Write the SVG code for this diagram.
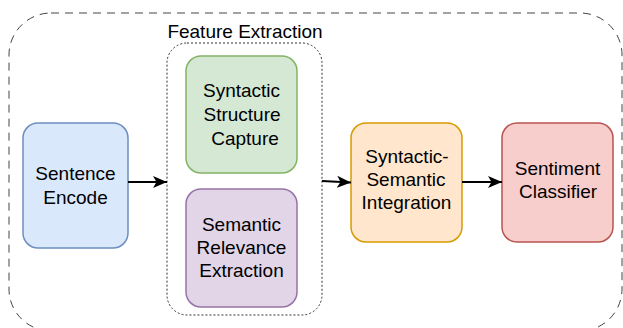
<svg xmlns="http://www.w3.org/2000/svg" width="623" height="328" viewBox="0 0 623 328">
<style>
text{font-family:"Liberation Sans",Arial,sans-serif;font-size:19px;fill:#000;text-anchor:middle}
.c{stroke:#000;stroke-width:1.8;fill:none}
</style>
<defs>
<marker id="ah" markerWidth="15" markerHeight="13" refX="14" refY="6.5" orient="auto" markerUnits="userSpaceOnUse">
<path d="M0,0.5 L14,6.5 L0,12.5 L3.5,6.5 Z" fill="#000"/>
</marker>
</defs>
<rect width="623" height="328" fill="#fff"/>
<g id="outer">
<rect x="9" y="13" width="613" height="318" rx="42" fill="none" stroke="#444" stroke-width="1" stroke-dasharray="8 6"/>
</g>
<g id="feature-extraction">
<rect x="167" y="43" width="155" height="272" rx="20" fill="none" stroke="#333" stroke-width="1" stroke-dasharray="2 2"/>
<text x="245" y="38">Feature Extraction</text>
</g>
<g id="sentence-encode">
<rect x="23" y="123" width="105" height="125" rx="15" fill="#dae8fc" stroke="#6c8ebf" stroke-width="1.5"/>
<text x="75.5" y="180">Sentence</text>
<text x="75.5" y="204">Encode</text>
</g>
<g id="syntactic-structure">
<rect x="186" y="56" width="111" height="117" rx="15" fill="#d5e8d4" stroke="#82b366" stroke-width="1.5"/>
<text x="241.5" y="97">Syntactic</text>
<text x="242" y="121">Structure</text>
<text x="245" y="145">Capture</text>
</g>
<g id="semantic-relevance">
<rect x="186" y="189" width="111" height="118" rx="15" fill="#e1d5e7" stroke="#9673a6" stroke-width="1.5"/>
<text x="241.5" y="231">Semantic</text>
<text x="241.5" y="254">Relevance</text>
<text x="241.5" y="277">Extraction</text>
</g>
<g id="integration">
<rect x="351" y="123" width="111" height="119" rx="15" fill="#ffe6cc" stroke="#d79b00" stroke-width="1.5"/>
<text x="407" y="163">Syntactic-</text>
<text x="406" y="186">Semantic</text>
<text x="406.5" y="209">Integration</text>
</g>
<g id="classifier">
<rect x="502" y="123" width="111" height="119" rx="15" fill="#f8cecc" stroke="#b85450" stroke-width="1.5"/>
<text x="557.5" y="175">Sentiment</text>
<text x="558" y="198">Classifier</text>
</g>
<g id="connectors">
<line class="c" x1="128" y1="182" x2="167" y2="182" marker-end="url(#ah)"/>
<line class="c" x1="322" y1="181" x2="351" y2="182.5" marker-end="url(#ah)"/>
<line class="c" x1="462" y1="182" x2="502" y2="182" marker-end="url(#ah)"/>
</g>
</svg>
